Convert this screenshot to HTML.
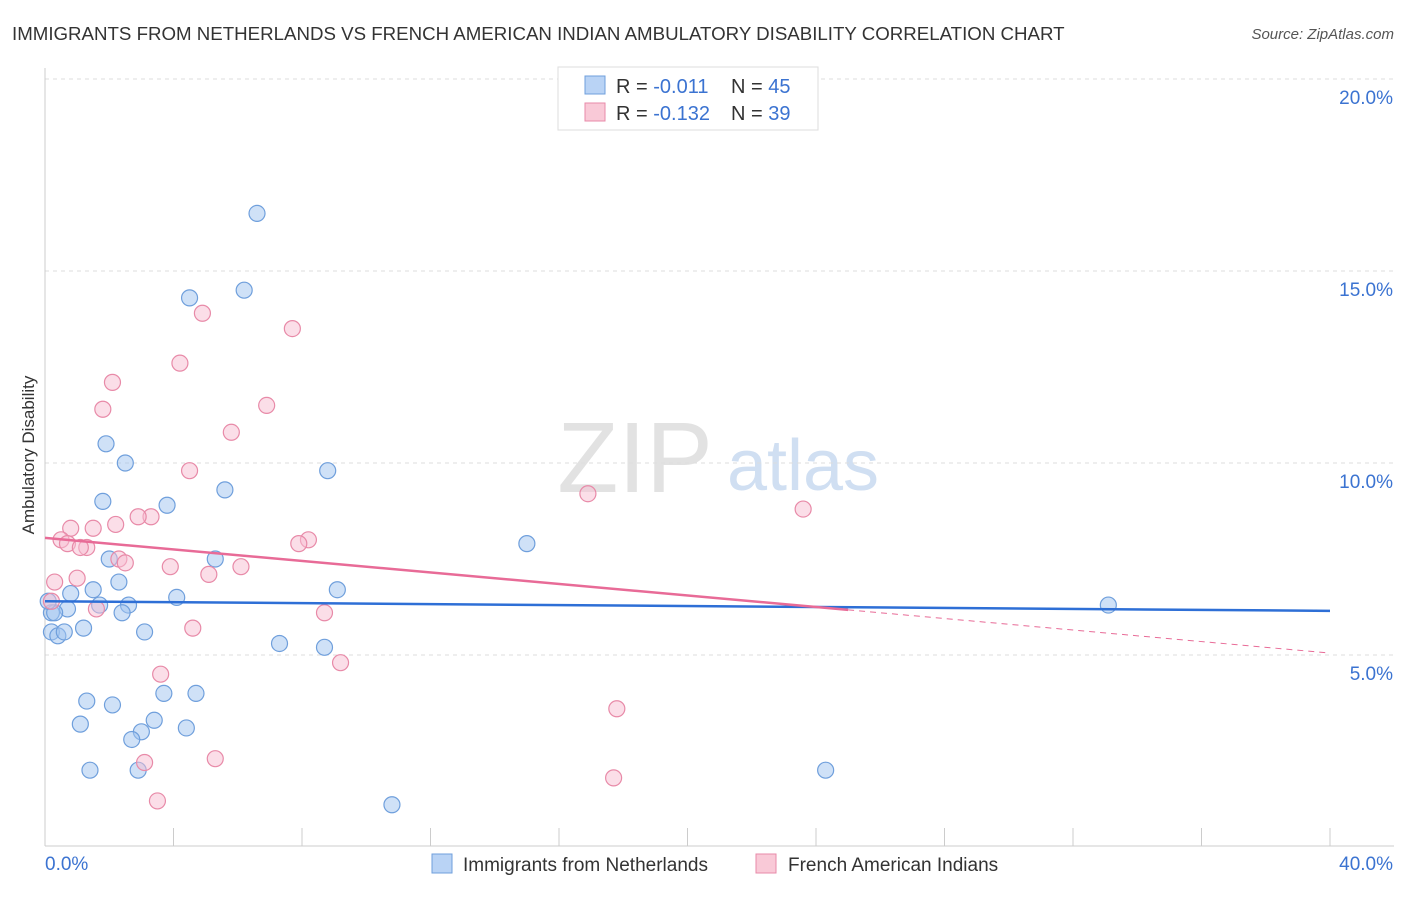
<!DOCTYPE html>
<html><head><meta charset="utf-8"><style>
body{margin:0;background:#fff;font-family:"Liberation Sans",sans-serif;}
svg text{font-family:"Liberation Sans",sans-serif;}
</style></head><body>
<svg id="chart" width="1406" height="892" xmlns="http://www.w3.org/2000/svg">
<text x="12" y="40" font-size="18.7" fill="#333">IMMIGRANTS FROM NETHERLANDS VS FRENCH AMERICAN INDIAN AMBULATORY DISABILITY CORRELATION CHART</text>
<text x="1394" y="39" font-size="15" fill="#555" font-style="italic" text-anchor="end">Source: ZipAtlas.com</text>
<text transform="translate(34,455) rotate(-90)" font-size="17" fill="#333" text-anchor="middle">Ambulatory Disability</text>
<g><text x="635" y="492" font-size="100" fill="#e2e2e2" font-family="Liberation Serif" text-anchor="middle">ZIP</text><text x="803" y="490" font-size="72" fill="#d0dff2" text-anchor="middle">atlas</text></g>
<g id="grid"></g><g id="axes"></g><g id="marks"></g>
<g>
<rect x="558" y="67" width="260" height="63" fill="#fff" stroke="#ddd"/>
<rect x="585" y="76" width="20" height="18" fill="#b9d3f5" stroke="#6f9fdc"/>
<rect x="585" y="103" width="20" height="18" fill="#f9c9d7" stroke="#e88aa8"/>
<text x="616" y="93" font-size="20" fill="#333">R = <tspan fill="#3b73d1">-0.011</tspan></text>
<text x="731" y="93" font-size="20" fill="#333">N = <tspan fill="#3b73d1">45</tspan></text>
<text x="616" y="120" font-size="20" fill="#333">R = <tspan fill="#3b73d1">-0.132</tspan></text>
<text x="731" y="120" font-size="20" fill="#333">N = <tspan fill="#3b73d1">39</tspan></text>
</g>
<g>
<rect x="432" y="854" width="20" height="19" fill="#b9d3f5" stroke="#6f9fdc"/>
<text x="463" y="871" font-size="19" fill="#333">Immigrants from Netherlands</text>
<rect x="756" y="854" width="20" height="19" fill="#f9c9d7" stroke="#e88aa8"/>
<text x="788" y="871" font-size="19" fill="#333">French American Indians</text>
</g>
</svg>
<script>
const yTicks=[5,10,15,20];
const yTickLabels=["5.0%","10.0%","15.0%","20.0%"];
const xTickLabels=["0.0%","40.0%"];
const blueX=[6.6,6.2,4.5,1.9,2.5,8.8,1.8,3.8,5.6,15.0,2.0,5.3,2.3,9.1,1.5,0.8,4.1,33.1,0.7,1.7,2.6,2.4,0.2,0.3,1.2,3.1,0.2,0.4,0.6,7.3,8.7,1.3,2.1,3.7,4.7,1.1,3.4,4.4,3.0,2.7,1.4,2.9,24.3,10.8,0.1];
const blueY=[16.5,14.5,14.3,10.5,10.0,9.8,9.0,8.9,9.3,7.9,7.5,7.5,6.9,6.7,6.7,6.6,6.5,6.3,6.2,6.3,6.3,6.1,6.1,6.1,5.7,5.6,5.6,5.5,5.6,5.3,5.2,3.8,3.7,4.0,4.0,3.2,3.3,3.1,3.0,2.8,2.0,2.0,2.0,1.1,6.4];
const pinkX=[4.9,7.7,4.2,2.1,1.8,6.9,5.8,4.5,16.9,23.6,3.3,2.9,2.2,1.5,0.8,0.5,0.7,8.2,7.9,1.3,1.1,2.3,2.5,6.1,3.9,5.1,0.3,1.0,1.6,8.7,4.6,9.2,3.6,17.8,3.1,5.3,17.7,3.5,0.2];
const pinkY=[13.9,13.5,12.6,12.1,11.4,11.5,10.8,9.8,9.2,8.8,8.6,8.6,8.4,8.3,8.3,8.0,7.9,8.0,7.9,7.8,7.8,7.5,7.4,7.3,7.3,7.1,6.9,7.0,6.2,6.1,5.7,4.8,4.5,3.6,2.2,2.3,1.8,1.2,6.4];
const blueTrend=[6.4,6.15];const pinkTrend=[8.05,5.05];const pinkSolidEnd=25;
const ns="http://www.w3.org/2000/svg";
const X=v=>45+v/40*1285, Y=v=>847-v/5*192;
function mk(t,a,p){const e=document.createElementNS(ns,t);for(const k in a)e.setAttribute(k,a[k]);document.getElementById(p).appendChild(e);return e;}
yTicks.forEach((t,i)=>{
 const g=mk('line',{x1:45,x2:1394,y1:Y(t),y2:Y(t),stroke:'#ddd','stroke-dasharray':'4,4'},'grid');
 
 
 const l=mk('text',{x:1393,y:Y(t)+25,'font-size':19,fill:'#3b73d1','text-anchor':'end'},'axes');l.textContent=yTickLabels[i];
 
 
});
mk('line',{x1:45,x2:45,y1:68,y2:846,stroke:'#ccc'},'axes');
mk('line',{x1:45,x2:1394,y1:846,y2:846,stroke:'#ccc'},'axes');
for(let i=1;i<=10;i++){mk('line',{x1:X(i*4),x2:X(i*4),y1:828,y2:846,stroke:'#ccc'},'axes');}
[[0,45,'start'],[1,1393,'end']].forEach(([i,x,a])=>{const t=mk('text',{x:x,y:870,'font-size':19,fill:'#3b73d1','text-anchor':a},'axes');t.textContent=xTickLabels[i];
 
 });
blueX.forEach((x,i)=>{const c=mk('circle',{cx:X(x),cy:Y(blueY[i]),r:8,fill:'rgba(160,195,240,0.5)',stroke:'#6f9fdc','stroke-width':1.2},'marks');
 
 });
pinkX.forEach((x,i)=>{const c=mk('circle',{cx:X(x),cy:Y(pinkY[i]),r:8,fill:'rgba(248,190,210,0.5)',stroke:'#e88aa8','stroke-width':1.2},'marks');
 
 });
const bl=mk('line',{x1:X(0),y1:Y(blueTrend[0]),x2:X(40),y2:Y(blueTrend[1]),stroke:'#2e6fd6','stroke-width':2.5},'marks');


const pm=pinkTrend[0]+(pinkTrend[1]-pinkTrend[0])*pinkSolidEnd/40;
const pl=mk('line',{x1:X(0),y1:Y(pinkTrend[0]),x2:X(pinkSolidEnd),y2:Y(pm),stroke:'#e86b97','stroke-width':2.5},'marks');


const pd=mk('line',{x1:X(pinkSolidEnd),y1:Y(pm),x2:X(40),y2:Y(pinkTrend[1]),stroke:'#e86b97','stroke-width':1,'stroke-dasharray':'6,5'},'marks');


</script>
</body></html>
